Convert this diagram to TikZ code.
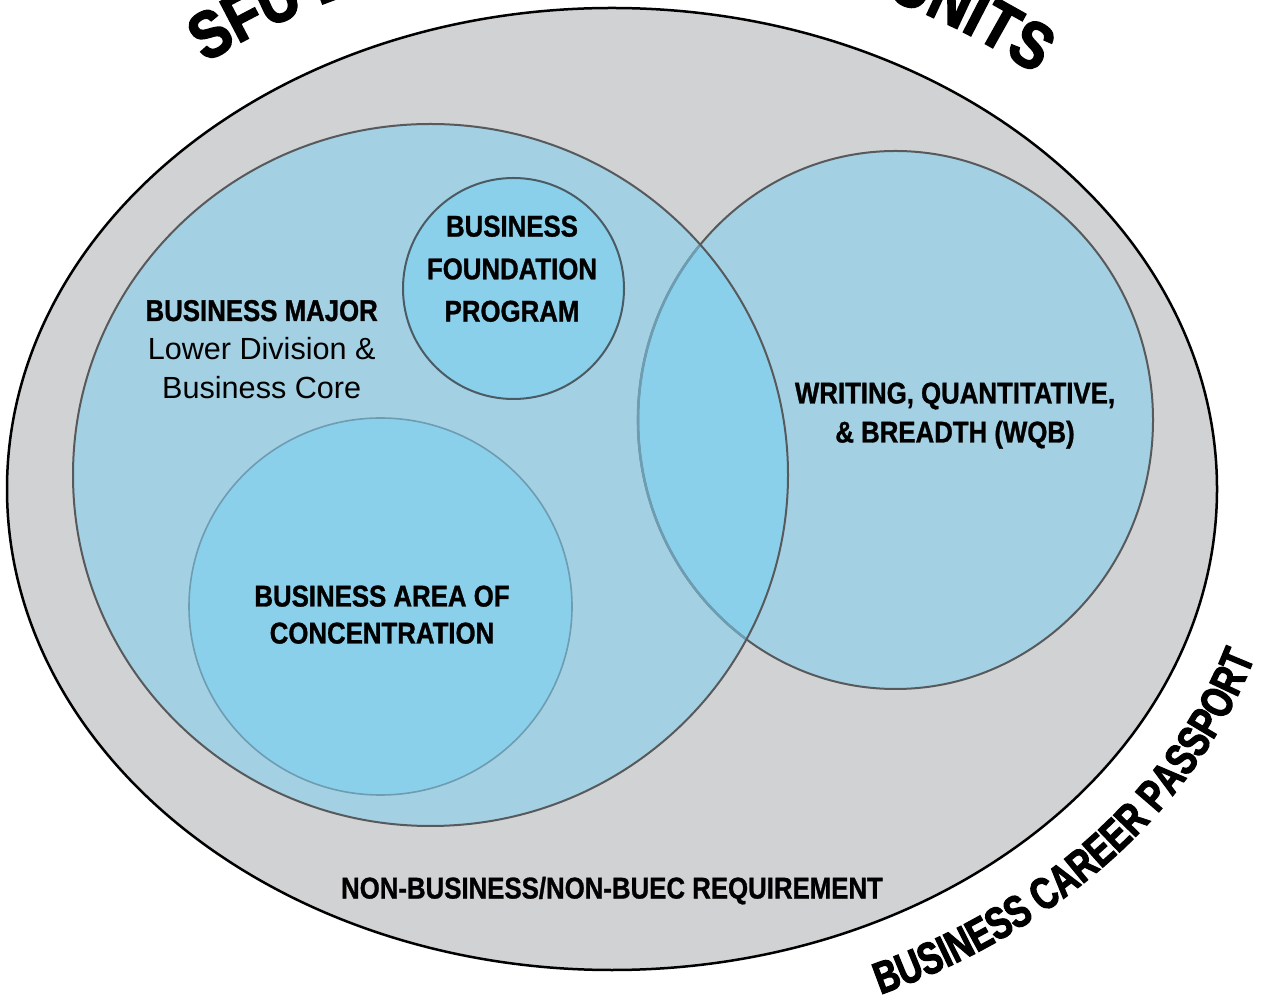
\documentclass[tikz,border=0pt]{standalone}
\usepackage{fontspec}
\setmainfont{Liberation Sans}
\newfontfamily\condfont[FakeStretch=0.86,FakeBold=1.0]{Liberation Sans}
\newfontfamily\heavyfont[FakeStretch=0.75,FakeBold=2.5]{Liberation Sans}
\newfontfamily\topheavyfont[FakeStretch=0.85,FakeBold=2.5]{Liberation Sans}
\usetikzlibrary{decorations.text}
\definecolor{outerfill}{HTML}{D1D2D4}
\definecolor{majorfill}{HTML}{A3D0E3}
\definecolor{innerfill}{HTML}{8BD0EB}
\definecolor{ringdark}{HTML}{58595B}
\definecolor{ringmid}{HTML}{4B5B64}
\definecolor{ringlight}{HTML}{6E9CB1}
\newcommand\sfutopfont{\topheavyfont\bfseries\fontsize{66}{66}\selectfont}
\newcommand\bcptextfont{\heavyfont\bfseries\fontsize{45}{45}\selectfont}
\begin{document}
\begin{tikzpicture}[x=1pt,y=1pt,
  boldtext/.style={font=\condfont\bfseries\fontsize{30}{35}\selectfont, anchor=base, inner sep=0pt},
  lighttext/.style={font=\fontsize{30.6}{36}\selectfont, anchor=base, inner sep=0pt},
  ring/.style={line width=2pt}]
\useasboundingbox (0,0) rectangle (1263,1007);
\fill[white] (0,0) rectangle (1263,1007);
% outer ellipse
\path[fill=outerfill, draw=black, line width=2.5pt] (612,518) ellipse [x radius=605pt, y radius=481pt];
% fills
\path[fill=majorfill] (430.5,532) ellipse [x radius=357.5pt, y radius=351pt];
\path[fill=majorfill] (895.5,587) ellipse [x radius=257.5pt, y radius=269pt];
\begin{scope}
  \clip (430.5,532) ellipse [x radius=357.5pt, y radius=351pt];
  \fill[innerfill] (895.5,587) ellipse [x radius=257.5pt, y radius=269pt];
\end{scope}
% concentration circle
\path[fill=innerfill, draw=ringlight, line width=1.6pt] (380.5,400.5) ellipse [x radius=191.5pt, y radius=188.5pt];
% foundation circle
\path[fill=innerfill, draw=ringmid, ring] (513.5,718.5) circle [radius=110.5pt];
% WQB outline
\draw[ringdark, ring] (895.5,587) ellipse [x radius=257.5pt, y radius=269pt];
\begin{scope}
  \clip (430.5,532) ellipse [x radius=357.5pt, y radius=351pt];
  \draw[ringlight, line width=2.6pt] (895.5,587) ellipse [x radius=257.5pt, y radius=269pt];
\end{scope}
% major outline
\draw[ringdark, ring] (430.5,532) ellipse [x radius=357.5pt, y radius=351pt];

% texts
\node[boldtext] (major) at (261.7,686) {BUSINESS MAJOR};
\node[lighttext] (lower) at (261.7,647) {Lower Division \&};
\node[lighttext] (core) at (261.7,608.5) {Business Core};
\node[boldtext] (bfp1) at (512,770.4) {BUSINESS};
\node[boldtext] (bfp2) at (512,727.7) {FOUNDATION};
\node[boldtext] (bfp3) at (512,685.4) {PROGRAM};
\node[boldtext] (wqb1) at (955,603.5) {WRITING, QUANTITATIVE,};
\node[boldtext] (wqb2) at (955,564.5) {\& BREADTH (WQB)};
\node[boldtext] (conc1) at (382,400.5) {BUSINESS AREA OF};
\node[boldtext] (conc2) at (382,363.5) {CONCENTRATION};
\node[boldtext] (nonbus) at (612,108.5) {NON-BUSINESS/NON-BUEC REQUIREMENT};

% curved texts
\path[decorate, decoration={text along path, text={|\sfutopfont|SFU 120}, text align=left}]
  (612,518) ++(127.8:663pt and 539pt) arc [start angle=127.8, end angle=90, x radius=663pt, y radius=539pt];
\path[decorate, decoration={text along path, text={|\sfutopfont|UNITS}, text align=right}]
  (612,518) ++(85:663pt and 539pt) arc [start angle=85, end angle=50.3, x radius=663pt, y radius=539pt];
\path[decorate, decoration={text along path, text={|\bcptextfont|BUSINESS CAREER PASSPORT}, text align=center}]
  (612,518) ++(-78.5:675pt and 551pt) arc [start angle=-78.5, end angle=-3.5, x radius=675pt, y radius=551pt];
\end{tikzpicture}
\end{document}
